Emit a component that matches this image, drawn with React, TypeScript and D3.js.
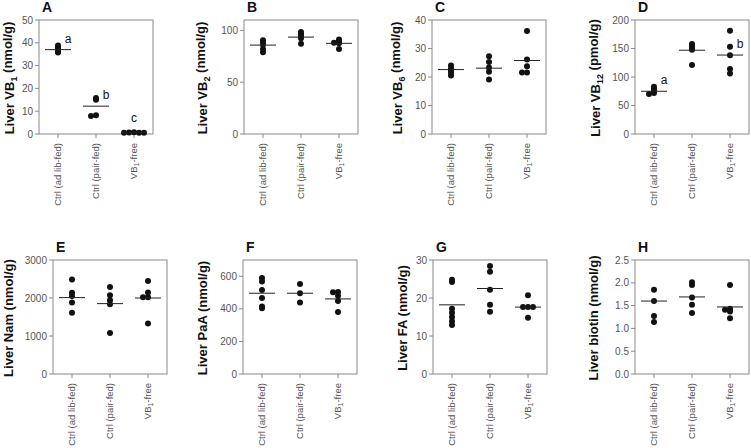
import React from 'react';
import * as d3 from 'd3';

// ---- categories ----
const groups = ['Ctrl (ad lib-fed)', 'Ctrl (pair-fed)', 'VB1-free'];

// ---- Panel A: Liver VB1 (nmol/g) ----
const vb1AdLib = [38.8, 38.0, 37.3, 36.5, 35.8];
const vb1PairFed = [15.8, 15.0, 8.2, 7.9];
const vb1Free = [0.8, 0.7, 0.6, 0.5, 0.5];
const vb1Means = [37.0, 12.2, 0.6];
const vb1Letters = ['a', 'b', 'c'];
const vb1Ticks = [0, 10, 20, 30, 40, 50];

// ---- Panel B: Liver VB2 (nmol/g) ----
const vb2AdLib = [90.5, 88.0, 86.0, 82.0, 79.0];
const vb2PairFed = [98.5, 96.5, 94.5, 92.5, 87.0];
const vb2Free = [91.3, 89.0, 88.0, 87.5, 82.0];
const vb2Means = [85.8, 93.5, 87.5];
const vb2Ticks = [0, 50, 100];

// ---- Panel C: Liver VB6 (nmol/g) ----
const vb6AdLib = [24.0, 23.0, 22.3, 21.5, 20.5];
const vb6PairFed = [27.3, 25.3, 23.3, 21.8, 19.1];
const vb6Free = [36.1, 26.1, 23.8, 21.6, 21.6];
const vb6Means = [22.6, 23.1, 25.8];
const vb6Ticks = [0, 10, 20, 30, 40];

// ---- Panel D: Liver VB12 (pmol/g) ----
const vb12AdLib = [83, 79, 75, 72, 70];
const vb12PairFed = [158, 155, 151, 148, 121];
const vb12Free = [181, 153, 138, 114, 106];
const vb12Means = [75, 147, 138.5];
const vb12Letters = ['a', '', 'b'];
const vb12Ticks = [0, 50, 100, 150, 200];

// ---- Panel E: Liver Nam (nmol/g) ----
const namAdLib = [2490, 2140, 2050, 1880, 1615];
const namPairFed = [2290, 2070, 1940, 1835, 1080];
const namFree = [2447, 2142, 2018, 2018, 1326];
const namMeans = [2010, 1852, 2000];
const namTicks = [0, 1000, 2000, 3000];

// ---- Panel F: Liver PaA (nmol/g) ----
const paaAdLib = [590, 568, 516, 466, 414, 404];
const paaPairFed = [553, 496, 439];
const paaFree = [504, 502, 481, 449, 380];
const paaMeans = [496, 496, 461];
const paaTicks = [0, 200, 400, 600];

// ---- Panel G: Liver FA (nmol/g) ----
const faAdLib = [24.8, 24.2, 17.2, 16.1, 15.0, 13.9, 12.9];
const faPairFed = [28.4, 26.9, 22.2, 18.2, 16.4];
const faFree = [20.7, 17.6, 17.6, 17.6, 14.8];
const faMeans = [18.2, 22.5, 17.6];
const faTicks = [0, 10, 20, 30];

// ---- Panel H: Liver biotin (nmol/g) ----
const biotinAdLib = [1.85, 1.6, 1.27, 1.14];
const biotinPairFed = [2.01, 1.95, 1.68, 1.52, 1.34];
const biotinFree = [1.95, 1.43, 1.41, 1.37, 1.22];
const biotinMeans = [1.6, 1.69, 1.47];
const biotinTicks = [0, 0.5, 1.0, 1.5, 2.0, 2.5];

type Panel = {
  id: string;
  label: [string, string, string];
  series: number[][];
  means: number[];
  letters?: string[];
  letterPos?: string[];
  domain: [number, number];
  ticks: number[];
  fmt: (v: number) => string;
  left: number;
  top: number;
  labelOffset: number;
};

const intFmt = (v: number) => d3.format('d')(v);
const decFmt = (v: number) => d3.format('.1f')(v);

const W = 114;
const H = 114;

const panels: Panel[] = [
  { id: 'A', label: ['Liver VB', '1', ' (nmol/g)'], series: [vb1AdLib, vb1PairFed, vb1Free], means: vb1Means, letters: vb1Letters, letterPos: ['right', 'right', 'above'], domain: [0, 50], ticks: vb1Ticks, fmt: intFmt, left: 39, top: 20, labelOffset: 30 },
  { id: 'B', label: ['Liver VB', '2', ' (nmol/g)'], series: [vb2AdLib, vb2PairFed, vb2Free], means: vb2Means, domain: [0, 110], ticks: vb2Ticks, fmt: intFmt, left: 244, top: 20, labelOffset: 42 },
  { id: 'C', label: ['Liver VB', '6', ' (nmol/g)'], series: [vb6AdLib, vb6PairFed, vb6Free], means: vb6Means, domain: [0, 40], ticks: vb6Ticks, fmt: intFmt, left: 432, top: 20, labelOffset: 35 },
  { id: 'D', label: ['Liver VB', '12', ' (pmol/g)'], series: [vb12AdLib, vb12PairFed, vb12Free], means: vb12Means, letters: vb12Letters, letterPos: ['right', 'right', 'right'], domain: [0, 200], ticks: vb12Ticks, fmt: intFmt, left: 635, top: 20, labelOffset: 40 },
  { id: 'E', label: ['Liver Nam (nmol/g)', '', ''], series: [namAdLib, namPairFed, namFree], means: namMeans, domain: [0, 3000], ticks: namTicks, fmt: intFmt, left: 53, top: 260, labelOffset: 45 },
  { id: 'F', label: ['Liver PaA (nmol/g)', '', ''], series: [paaAdLib, paaPairFed, paaFree], means: paaMeans, domain: [0, 700], ticks: paaTicks, fmt: intFmt, left: 243, top: 260, labelOffset: 41 },
  { id: 'G', label: ['Liver FA (nmol/g)', '', ''], series: [faAdLib, faPairFed, faFree], means: faMeans, domain: [0, 30], ticks: faTicks, fmt: intFmt, left: 433, top: 260, labelOffset: 31 },
  { id: 'H', label: ['Liver biotin (nmol/g)', '', ''], series: [biotinAdLib, biotinPairFed, biotinFree], means: biotinMeans, domain: [0, 2.5], ticks: biotinTicks, fmt: decFmt, left: 635, top: 260, labelOffset: 42 },
];

const AXIS = '#8a8a8a';
const TICKTXT = '#555';
const FONT = 'Liberation Sans, Arial, Helvetica, sans-serif';

// simple column scatter: points with nearly equal y are laid side by side
function swarm(values: number[], y: (v: number) => number, step: number, dyMin: number) {
  const placed: { v: number; dx: number; py: number }[] = [];
  const order = values.map((v, i) => ({ v, i })).sort((a, b) => b.v - a.v);
  for (const { v } of order) {
    const py = y(v);
    let k = 0;
    for (let n = 0; n < 20; n++) {
      const cand = n === 0 ? 0 : (n % 2 === 1 ? -Math.ceil(n / 2) : Math.ceil(n / 2));
      const dx = cand * step;
      const hit = placed.some(p => Math.abs(p.py - py) < dyMin && Math.abs(p.dx - dx) < step * 0.9);
      if (!hit) { k = cand; break; }
    }
    placed.push({ v, dx: k * step, py });
  }
  return placed;
}

function PanelView({ p }: { p: Panel }) {
  const x = d3.scalePoint<string>().domain(groups).range([p.left, p.left + W]).padding(0.5);
  const y = d3.scaleLinear().domain(p.domain).range([p.top + H, p.top]);
  const bottom = p.top + H;
  const labelX = p.left - p.labelOffset;
  const labelY = p.top + H / 2 + 1;
  return (
    <g>
      <text x={p.left + 3} y={p.top - 8} fontFamily={FONT} fontWeight="bold" fontSize={14} fill="#111">{p.id}</text>
      <rect x={p.left} y={p.top} width={W} height={H} fill="none" stroke={AXIS} strokeWidth={1} />
      {p.ticks.map(t => (
        <g key={t}>
          <line x1={p.left - 4} x2={p.left} y1={y(t)} y2={y(t)} stroke={AXIS} />
          <text x={p.left - 6} y={y(t)} dy="0.35em" textAnchor="end" fontFamily={FONT} fontSize={10} fill={TICKTXT}>{p.fmt(t)}</text>
        </g>
      ))}
      {groups.map(g => {
        const gx = x(g)!;
        return (
          <g key={g}>
            <line x1={gx} x2={gx} y1={bottom} y2={bottom + 4} stroke={AXIS} />
            <text transform={`translate(${gx},${bottom + 9}) rotate(-90)`} dy="0.35em" textAnchor="end" fontFamily={FONT} fontSize={9.5} fill={TICKTXT}>
              {g === 'VB1-free' ? (<>VB<tspan fontSize={7} dy="0.3em">1</tspan><tspan dy="-0.3em">-free</tspan></>) : g}
            </text>
          </g>
        );
      })}
      <text transform={`translate(${labelX},${labelY}) rotate(-90)`} dy="0.35em" textAnchor="middle" fontFamily={FONT} fontWeight="bold" fontSize={13} fill="#111">
        {p.label[0]}
        {p.label[1] ? <tspan fontSize={9} dy="0.35em">{p.label[1]}</tspan> : null}
        {p.label[1] ? <tspan dy="-0.35em">{p.label[2]}</tspan> : null}
      </text>
      {p.series.map((vals, gi) => {
        const gx = x(groups[gi])!;
        const pts = swarm(vals, y, 5, 1.2);
        return (
          <g key={gi}>
            {pts.map((pt, j) => (
              <circle key={j} cx={gx + pt.dx} cy={pt.py} r={3} fill="#111" />
            ))}
            <line x1={gx - 13} x2={gx + 13} y1={y(p.means[gi])} y2={y(p.means[gi])} stroke="#222" strokeWidth={1} />
          </g>
        );
      })}
      {p.letters ? p.letters.map((l, gi) => {
        if (!l) return null;
        const gx = x(groups[gi])!;
        const pos = p.letterPos ? p.letterPos[gi] : 'right';
        const my = y(p.means[gi]);
        return pos === 'above'
          ? <text key={gi} x={gx} y={my - 11} textAnchor="middle" fontFamily={FONT} fontSize={12} fill="#111">{l}</text>
          : <text key={gi} x={gx + 10} y={my - 7} textAnchor="middle" fontFamily={FONT} fontSize={12} fill="#111">{l}</text>;
      }) : null}
    </g>
  );
}

export default function App() {
  return (
    <div>
      <style>{`body{margin:0;background:#fff}`}</style>
      <svg width={751} height={448} viewBox="0 0 751 448" style={{ display: 'block' }}>
        <rect width={751} height={448} fill="#fff" />
        {panels.map(p => <PanelView key={p.id} p={p} />)}
      </svg>
    </div>
  );
}
